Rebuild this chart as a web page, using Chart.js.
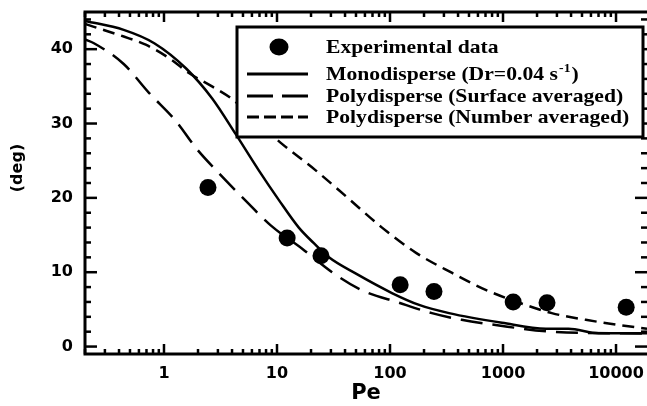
<!DOCTYPE html>
<html lang="en">
<head>
<meta charset="UTF-8">
<title>Pe vs angle</title>
<style>
  html, body { margin: 0; padding: 0; background: #fff; }
</style>
</head>
<body>
<canvas id="chart" width="647" height="406"></canvas>
<script src="https://cdn.jsdelivr.net/npm/chart.js"></script>
<script>
  // experimental points
  const expPe  = [2.45, 12.3, 24.5, 123, 245, 1230, 2450, 12300];
  const expDeg = [21.4, 14.6, 12.2, 8.3, 7.4, 6.0, 5.9, 5.3];

  // monodisperse model (solid)
  const monoPe  = [0.2, 0.44, 0.82, 1.57, 2.66, 4.3, 6.9, 10.4, 15.6, 21.2, 28.8, 50, 104, 181, 333, 980, 2400, 3800, 7000, 18800];
  const monoDeg = [43.8, 42.6, 40.8, 37.4, 33.4, 28.6, 23.7, 19.7, 16.0, 13.9, 12.0, 9.8, 7.2, 5.6, 4.5, 3.2, 2.4, 2.4, 1.8, 1.8];

  // polydisperse, surface averaged (long dash)
  const surfPe  = [0.2, 0.24, 0.44, 0.74, 1.28, 1.92, 3.07, 5.3, 8.8, 16.6, 30.7, 56, 120, 235, 430, 860, 2700, 18800];
  const surfDeg = [41.3, 40.8, 38.0, 34.1, 30.3, 26.7, 23.3, 19.6, 16.3, 13.2, 10.0, 7.6, 5.9, 4.5, 3.6, 2.9, 2.0, 1.75];

  // polydisperse, number averaged (short dash)
  const numPe  = [0.2, 0.24, 0.44, 0.69, 1.11, 1.66, 2.66, 4.0, 6.5, 10.8, 22, 43, 85, 170, 355, 710, 1390, 2700, 5400, 10600, 18800];
  const numDeg = [43.4, 43.0, 41.7, 40.6, 38.8, 36.8, 35.0, 33.3, 30.4, 27.4, 23.7, 19.9, 16.0, 12.6, 9.9, 7.6, 5.9, 4.5, 3.6, 2.9, 2.4];

  const xTickValues = [1, 10, 100, 1000, 10000];
  const yTickValues = [0, 10, 20, 30, 40];

  const legendLabels = [
    'Experimental data',
    'Monodisperse (Dr=0.04 s^{-1})',
    'Polydisperse (Surface averaged)',
    'Polydisperse (Number averaged)'
  ];

  const toXY = (xs, ys) => xs.map((v, i) => ({ x: v, y: ys[i] }));

  const tickFont = { family: 'DejaVu Sans', weight: 'bold', size: 16 };

  function drawLegend(chart) {
    const ctx = chart.ctx;
    const box = { x: 237, y: 27, w: 406, h: 110 };
    const rows = [47, 74, 96, 117];
    ctx.save();
    ctx.setLineDash([]);
    ctx.fillStyle = '#fff';
    ctx.fillRect(box.x, box.y, box.w, box.h);
    ctx.lineWidth = 3;
    ctx.strokeStyle = '#000';
    ctx.strokeRect(box.x, box.y, box.w, box.h);

    chart.data.datasets.forEach((ds, i) => {
      const cy = rows[i];
      ctx.fillStyle = '#000';
      ctx.strokeStyle = '#000';
      if (!ds.showLine) {
        ctx.beginPath();
        ctx.ellipse(279, cy, 9.5, 8.5, 0, 0, Math.PI * 2);
        ctx.fill();
      } else {
        ctx.lineWidth = 3;
        ctx.setLineDash(ds.legendDash || []);
        ctx.beginPath();
        ctx.moveTo(247, cy);
        ctx.lineTo(308, cy);
        ctx.stroke();
        ctx.setLineDash([]);
      }
      // text, slightly stretched like the original
      const m = legendLabels[i].match(/^(.*)\^\{(.*)\}(.*)$/);
      ctx.save();
      ctx.translate(326, cy + 6);
      ctx.scale(1.14, 1);
      ctx.textBaseline = 'alphabetic';
      ctx.font = 'bold 19px "Liberation Serif"';
      if (m) {
        ctx.fillText(m[1], 0, 0);
        let w = ctx.measureText(m[1]).width + 1;
        ctx.font = 'bold 12px "Liberation Serif"';
        ctx.fillText(m[2], w, -8);
        w += ctx.measureText(m[2]).width + 1;
        ctx.font = 'bold 19px "Liberation Serif"';
        ctx.fillText(m[3], w, 0);
      } else {
        ctx.fillText(legendLabels[i], 0, 0);
      }
      ctx.restore();
    });
    ctx.restore();
  }

  const axisFrame = {
    id: 'axisFrame',
    afterDatasetsDraw(chart) {
      const { ctx, chartArea: a, scales: { x, y } } = chart;
      ctx.save();
      ctx.strokeStyle = '#000';
      ctx.setLineDash([]);
      ctx.lineWidth = 2.5;
      const seg = (x1, y1, x2, y2) => {
        ctx.beginPath(); ctx.moveTo(x1, y1); ctx.lineTo(x2, y2); ctx.stroke();
      };
      // inward ticks on log axis, top and bottom
      for (let e = -1; e <= 4; e++) {
        for (let k = 1; k <= 9; k++) {
          const v = k * Math.pow(10, e);
          if (v < x.min || v > x.max) continue;
          const px = x.getPixelForValue(v);
          const len = k === 1 ? 10 : 5;
          seg(px, a.bottom, px, a.bottom - len);
          seg(px, a.top, px, a.top + len);
        }
      }
      // inward ticks left and right
      for (let v = 0; v <= y.max; v += 2) {
        const py = y.getPixelForValue(v);
        const len = v % 10 === 0 ? 12 : 6;
        seg(a.left, py, a.left + len, py);
        seg(a.right, py, a.right - len, py);
      }
      ctx.lineWidth = 3;
      ctx.strokeRect(a.left, a.top, a.right - a.left + 3, a.bottom - a.top);

      // y title
      ctx.fillStyle = '#000';
      ctx.translate(18, 168);
      ctx.rotate(-Math.PI / 2);
      ctx.textAlign = 'center';
      ctx.textBaseline = 'middle';
      ctx.font = 'bold 16px "DejaVu Sans"';
      ctx.fillText('(deg)', 0, 0);
      ctx.restore();

      drawLegend(chart);
    }
  };

  const noPad = s => { s.paddingTop = 0; s.paddingBottom = 0; s.paddingLeft = 0; s.paddingRight = 0; };

  new Chart(document.getElementById('chart'), {
    type: 'scatter',
    data: {
      datasets: [
        {
          label: legendLabels[0],
          data: toXY(expPe, expDeg),
          showLine: false,
          pointRadius: 8.5,
          pointBorderWidth: 0,
          backgroundColor: '#000',
          borderColor: '#000'
        },
        {
          label: legendLabels[1],
          data: toXY(monoPe, monoDeg),
          showLine: true,
          pointRadius: 0,
          borderColor: '#000',
          borderWidth: 2.5,
          cubicInterpolationMode: 'monotone'
        },
        {
          label: legendLabels[2],
          data: toXY(surfPe, surfDeg),
          showLine: true,
          pointRadius: 0,
          borderColor: '#000',
          borderWidth: 2.5,
          borderDash: [22, 10],
          legendDash: [26, 9],
          cubicInterpolationMode: 'monotone'
        },
        {
          label: legendLabels[3],
          data: toXY(numPe, numDeg),
          showLine: true,
          pointRadius: 0,
          borderColor: '#000',
          borderWidth: 2.5,
          borderDash: [12, 7],
          legendDash: [12, 5],
          cubicInterpolationMode: 'monotone'
        }
      ]
    },
    options: {
      responsive: false,
      animation: false,
      layout: { autoPadding: false, padding: { top: 12, right: 0, bottom: 0, left: 0 } },
      plugins: {
        legend: { display: false },
        tooltip: { enabled: false }
      },
      scales: {
        x: {
          type: 'logarithmic',
          min: 0.2,
          max: 18800,
          afterBuildTicks: s => { s.ticks = xTickValues.map(v => ({ value: v })); },
          afterFit: s => { s.height = 52; noPad(s); },
          grid: { display: false, drawTicks: false },
          border: { display: false },
          ticks: {
            color: '#000',
            font: tickFont,
            padding: 10,
            maxRotation: 0,
            autoSkip: false,
            callback: v => String(v)
          },
          title: {
            display: true,
            text: 'Pe',
            color: '#000',
            font: { family: 'DejaVu Sans', weight: 'bold', size: 21 },
            padding: 0
          }
        },
        y: {
          min: -1,
          max: 45,
          afterBuildTicks: s => { s.ticks = yTickValues.map(v => ({ value: v })); },
          afterFit: s => { s.width = 85; noPad(s); },
          grid: { display: false, drawTicks: false },
          border: { display: false },
          ticks: {
            color: '#000',
            font: tickFont,
            padding: 12
          }
        }
      }
    },
    plugins: [axisFrame]
  });
</script>
</body>
</html>
